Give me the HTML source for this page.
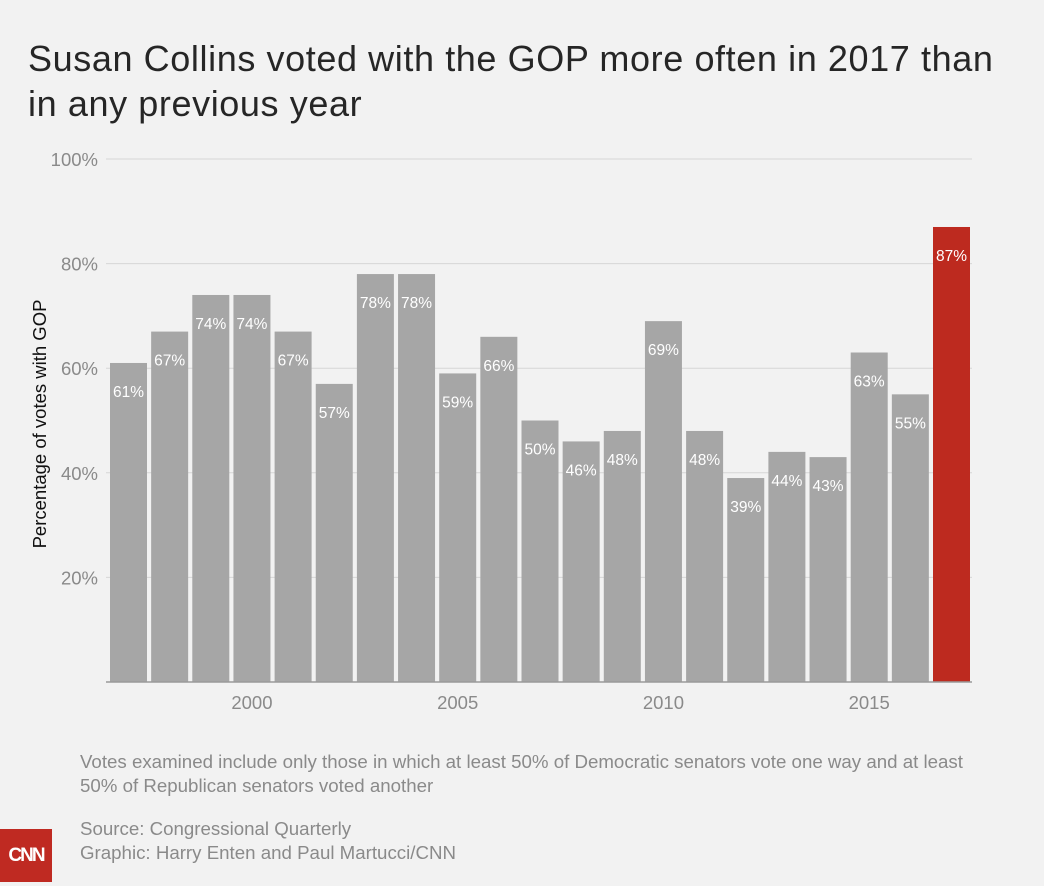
<!DOCTYPE html>
<html><head><meta charset="utf-8"><style>
body{margin:0;background:#f2f2f2;font-family:"Liberation Sans",sans-serif;}
#wrap{position:relative;width:1044px;height:886px;overflow:hidden;background:#f2f2f2;}
h1{position:absolute;left:28px;top:36px;margin:0;font-weight:normal;font-size:36px;letter-spacing:0.6px;line-height:45px;color:#262626;width:1016px;white-space:nowrap;}
.note{position:absolute;left:80px;color:#8a8a8a;font-size:18.7px;line-height:24px;}
#logo{position:absolute;left:0;top:829px;width:52px;height:53px;background:#bf2a22;color:#fff;font-weight:bold;font-size:19px;line-height:53px;text-align:center;letter-spacing:-2px;}
</style></head><body>
<div id="wrap">
<h1>Susan Collins voted with the GOP more often in 2017 than<br>in any previous year</h1>
<svg id="chart" width="1044" height="886" style="position:absolute;left:0;top:0"></svg>
<div class="note" style="top:750px">Votes examined include only those in which at least 50% of Democratic senators vote one way and at least<br>50% of Republican senators voted another</div>
<div class="note" style="top:817px">Source: Congressional Quarterly<br>Graphic: Harry Enten and Paul Martucci/CNN</div>
<div id="logo">CNN</div>
</div>
<script>
const years=[1997,1998,1999,2000,2001,2002,2003,2004,2005,2006,2007,2008,2009,2010,2011,2012,2013,2014,2015,2016,2017];
const values=[61,67,74,74,67,57,78,78,59,66,50,46,48,69,48,39,44,43,63,55,87];
const yTicks=[20,40,60,80,100];
const xTicks=[2000,2005,2010,2015];
const NS="http://www.w3.org/2000/svg";
const svg=document.getElementById('chart');
const x0=110,pitch=41.15,bw=37,base=682,top100=159;
const y=v=>base-(v/100)*(base-top100);
const xb=yr=>x0+(yr-years[0])*pitch;
function el(t,a){const e=document.createElementNS(NS,t);for(const k in a)e.setAttribute(k,a[k]);svg.appendChild(e);return e;}
yTicks.forEach(t=>{
  const l=el('line',{x1:106,x2:972,y1:y(t),y2:y(t),stroke:'#d6d6d6','stroke-width':1});
  
  
  const tx=el('text',{x:98,y:y(t)+7,'text-anchor':'end','font-size':18.5,fill:'#8a8a8a','font-family':'Liberation Sans, sans-serif'});
  tx.textContent=t+'%';
  
  
});
years.forEach((yr,i)=>{
  const v=values[i];
  const r=el('rect',{x:xb(yr),y:y(v),width:bw,height:base-y(v),fill:yr===2017?'#bd2a1f':'#a6a6a6'});
  
  
  const t=el('text',{x:xb(yr)+bw/2,y:y(v)+34,'text-anchor':'middle','font-size':15.5,fill:'#fff','font-family':'Liberation Sans, sans-serif'});
  t.textContent=v+'%';
  
  
});
const bl=el('line',{x1:106,x2:972,y1:base,y2:base,stroke:'#9a9a9a','stroke-width':1.5});


xTicks.forEach(t=>{
  const tx=el('text',{x:xb(t)+bw/2,y:709,'text-anchor':'middle','font-size':18.5,fill:'#8a8a8a','font-family':'Liberation Sans, sans-serif'});
  tx.textContent=t;
  
  
});
const yt=el('text',{x:0,y:0,transform:'translate(46,424) rotate(-90)','text-anchor':'middle','font-size':18.5,fill:'#111','font-family':'Liberation Sans, sans-serif'});
yt.textContent='Percentage of votes with GOP';


</script>
</body></html>
